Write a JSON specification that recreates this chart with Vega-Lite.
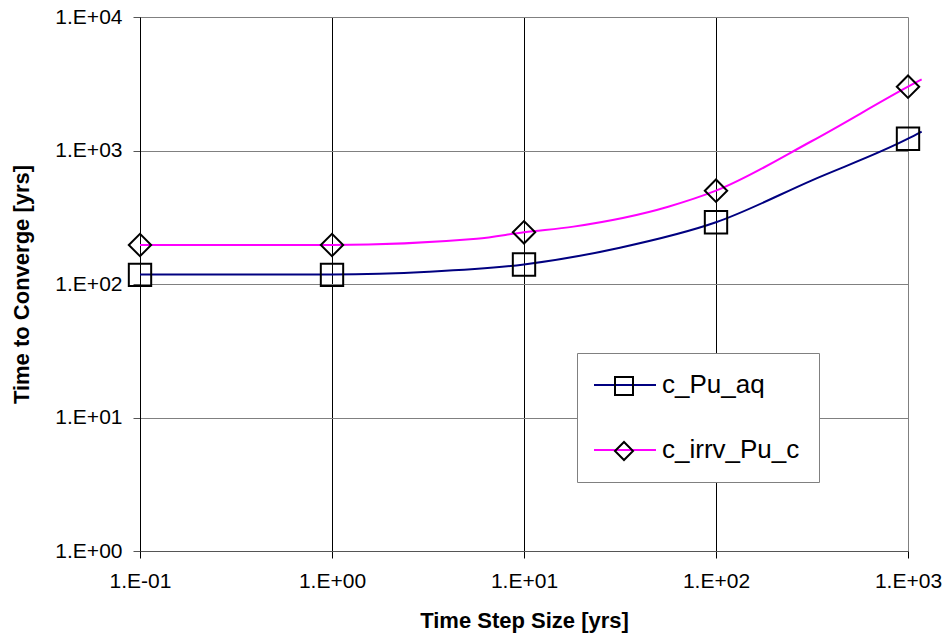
{
  "$schema": "https://vega.github.io/schema/vega-lite/v6.json",
  "width": 768,
  "height": 534,
  "autosize": {"type": "none"},
  "padding": {"left": 140, "top": 17, "right": 40, "bottom": 90},
  "background": "white",
  "view": {"stroke": null},
  "config": {"font": "Liberation Sans"},
  "datasets": {
    "curves": [
      {"step": 0.1, "time": 118, "series": "c_Pu_aq"},
      {"step": 1, "time": 118, "series": "c_Pu_aq"},
      {"step": 3.2, "time": 123.5, "series": "c_Pu_aq"},
      {"step": 10, "time": 140, "series": "c_Pu_aq"},
      {"step": 31.6, "time": 187, "series": "c_Pu_aq"},
      {"step": 100, "time": 290, "series": "c_Pu_aq"},
      {"step": 316, "time": 598, "series": "c_Pu_aq"},
      {"step": 1000, "time": 1225, "series": "c_Pu_aq"},
      {"step": 1178, "time": 1385, "series": "c_Pu_aq"},
      {"step": 0.1, "time": 196, "series": "c_irrv_Pu_c"},
      {"step": 1, "time": 196, "series": "c_irrv_Pu_c"},
      {"step": 5.67, "time": 218, "series": "c_irrv_Pu_c"},
      {"step": 10, "time": 244, "series": "c_irrv_Pu_c"},
      {"step": 18.1, "time": 269, "series": "c_irrv_Pu_c"},
      {"step": 56.4, "time": 379, "series": "c_irrv_Pu_c"},
      {"step": 100, "time": 500, "series": "c_irrv_Pu_c"},
      {"step": 316, "time": 1178, "series": "c_irrv_Pu_c"},
      {"step": 1000, "time": 3006, "series": "c_irrv_Pu_c"},
      {"step": 1178, "time": 3415, "series": "c_irrv_Pu_c"}
    ],
    "markers": [
      {"step": 0.1, "time": 117, "marker": "c_Pu_aq"},
      {"step": 1, "time": 117, "marker": "c_Pu_aq"},
      {"step": 10, "time": 140, "marker": "c_Pu_aq"},
      {"step": 100, "time": 290, "marker": "c_Pu_aq"},
      {"step": 1000, "time": 1225, "marker": "c_Pu_aq"},
      {"step": 0.1, "time": 196, "marker": "c_irrv_Pu_c"},
      {"step": 1, "time": 196, "marker": "c_irrv_Pu_c"},
      {"step": 10, "time": 244, "marker": "c_irrv_Pu_c"},
      {"step": 100, "time": 500, "marker": "c_irrv_Pu_c"},
      {"step": 1000, "time": 3006, "marker": "c_irrv_Pu_c"}
    ]
  },
  "encoding": {
    "x": {
      "field": "step",
      "type": "quantitative",
      "scale": {"type": "log", "domain": [0.1, 1000], "nice": false},
      "axis": {
        "values": [0.1, 1, 10, 100, 1000],
        "labelExpr": "'1.E' + (round(log(datum.value)/LN10) < 0 ? '-' : '+') + '0' + abs(round(log(datum.value)/LN10))",
        "title": "Time Step Size [yrs]",
        "titleFontSize": 22,
        "titleFontWeight": "bold",
        "titleColor": "black",
        "titlePadding": 19,
        "labelFontSize": 21,
        "labelColor": "black",
        "labelPadding": 12,
        "labelFlush": false,
        "labelOverlap": false,
        "tickSize": 7,
        "tickColor": "black",
        "domainColor": "#555555",
        "grid": true,
        "gridOpacity": 1,
        "gridColor": {"condition": {"test": "datum.value >= 999", "value": "#808080"}, "value": "black"}
      }
    },
    "y": {
      "field": "time",
      "type": "quantitative",
      "scale": {"type": "log", "domain": [1, 10000], "nice": false},
      "axis": {
        "values": [1, 10, 100, 1000, 10000],
        "labelExpr": "'1.E' + (round(log(datum.value)/LN10) < 0 ? '-' : '+') + '0' + abs(round(log(datum.value)/LN10))",
        "title": "Time to Converge [yrs]",
        "titleFontSize": 22,
        "titleFontWeight": "bold",
        "titleColor": "black",
        "titlePadding": 21,
        "labelFontSize": 21,
        "labelColor": "black",
        "labelPadding": 11,
        "labelFlush": false,
        "labelOverlap": false,
        "tickSize": 7,
        "tickColor": "#555555",
        "domainColor": "black",
        "grid": true,
        "gridOpacity": 1,
        "gridColor": "#808080"
      }
    }
  },
  "layer": [
    {
      "data": {"name": "curves"},
      "mark": {"type": "line", "interpolate": "monotone", "strokeWidth": 2, "clip": false},
      "encoding": {
        "color": {
          "field": "series",
          "type": "nominal",
          "scale": {"range": ["#000080", "#FF00FF"]},
          "legend": {
            "orient": "none",
            "legendX": 437,
            "legendY": 336,
            "title": null,
            "symbolType": "M-3.1,0H3.1",
            "symbolSize": 400,
            "symbolStrokeWidth": 2,
            "symbolOffset": 16,
            "labelFontSize": 26,
            "labelColor": "black",
            "labelOffset": 24,
            "labelExpr": "datum.label + '  '",
            "fillColor": "white",
            "strokeColor": "#808080",
            "padding": 19,
            "rowPadding": 39
          }
        }
      }
    },
    {
      "data": {"name": "markers"},
      "mark": {"type": "point", "filled": false, "color": "black", "strokeWidth": 2, "size": 500, "opacity": 1},
      "encoding": {
        "shape": {
          "field": "marker",
          "type": "nominal",
          "scale": {"range": ["square", "diamond"]},
          "legend": {
            "orient": "none",
            "legendX": 474,
            "legendY": 359,
            "title": null,
            "symbolSize": 324,
            "symbolStrokeWidth": 2,
            "symbolStrokeColor": "black",
            "symbolFillColor": "transparent",
            "symbolOpacity": 1,
            "labelFontSize": 1,
            "labelColor": "transparent",
            "padding": 0,
            "rowPadding": 39
          }
        }
      }
    }
  ]
}
